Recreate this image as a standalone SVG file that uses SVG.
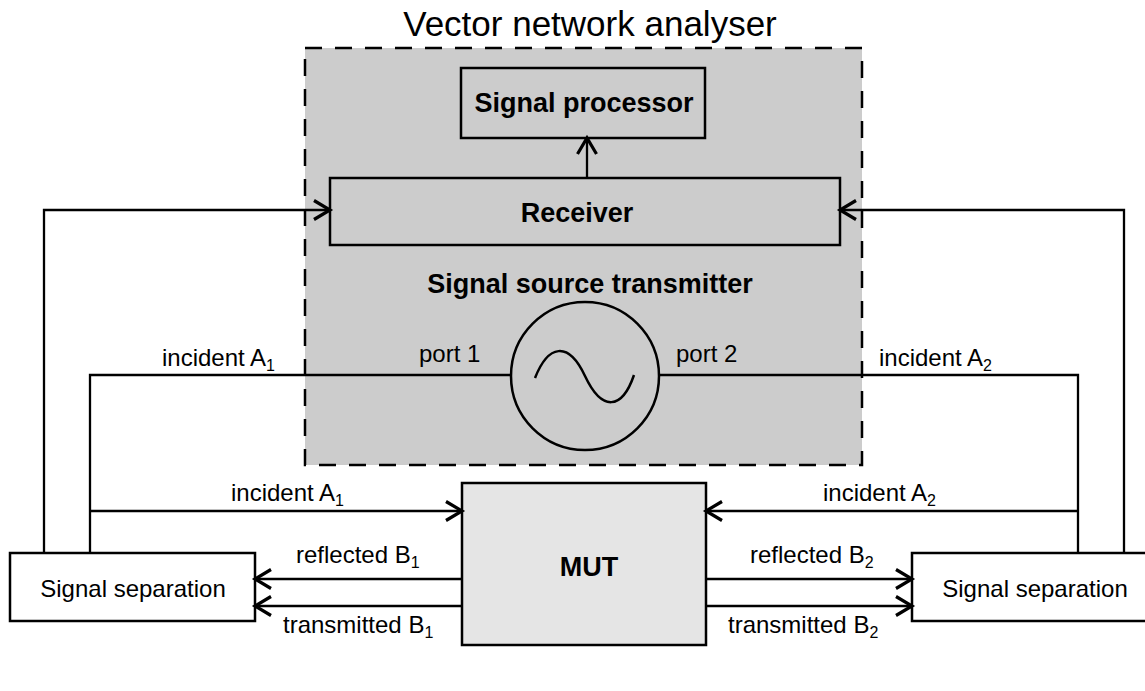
<svg xmlns="http://www.w3.org/2000/svg" width="1145" height="691" viewBox="0 0 1145 691">
<style>
text{font-family:"Liberation Sans",Arial,sans-serif;fill:#000}
.lbl{font-size:24px}
.sub{font-size:16px}
.b{font-size:27px;font-weight:bold}
.box{stroke:#000;stroke-width:2.5}
.ln{fill:none;stroke:#000;stroke-width:2.3}
</style>
<defs>
<marker id="arr" markerUnits="userSpaceOnUse" markerWidth="22" markerHeight="24" refX="18" refY="12" orient="auto">
<path d="M2,2.5 L18,12 L2,21.5" fill="none" stroke="#000" stroke-width="3.2"/>
</marker>
</defs>
<rect width="1145" height="691" fill="#fff"/>
<g id="vna">
<rect x="305" y="48" width="557" height="417" fill="#cccccc" stroke="#000" stroke-width="2.5" stroke-dasharray="17 13"/>
<text x="590" y="36" text-anchor="middle" style="font-size:35px">Vector network analyser</text>
</g>
<g id="processor">
<rect class="box" x="461" y="68" width="244" height="70" fill="#cccccc"/>
<text class="b" x="584" y="112" text-anchor="middle">Signal processor</text>
</g>
<g id="receiver">
<rect class="box" x="330" y="178" width="510" height="67" fill="#cccccc"/>
<text class="b" x="577" y="222" text-anchor="middle">Receiver</text>
</g>
<g id="source">
<text class="b" x="590" y="293" text-anchor="middle">Signal source transmitter</text>
<circle cx="585" cy="376" r="74" fill="none" stroke="#000" stroke-width="2.5"/>
<path d="M535,378 C548,345 568,340 585,376 S622,410 634,375" fill="none" stroke="#000" stroke-width="2.5"/>
<text class="lbl" x="419" y="362">port 1</text>
<text class="lbl" x="676" y="362">port 2</text>
</g>
<g id="mut">
<rect class="box" x="462" y="483" width="244" height="162" fill="#e5e5e5"/>
<text class="b" x="589" y="576" text-anchor="middle">MUT</text>
</g>
<g id="sep1">
<rect class="box" x="10" y="553" width="245" height="68" fill="#fff"/>
<text class="lbl" x="133" y="597" text-anchor="middle">Signal separation</text>
</g>
<g id="sep2">
<rect class="box" x="912" y="553" width="245" height="68" fill="#fff"/>
<text class="lbl" x="1035" y="597" text-anchor="middle">Signal separation</text>
</g>
<g id="connectors">
<path class="ln" d="M44,553 V210 H330" marker-end="url(#arr)"/>
<path class="ln" d="M1124,553 V210 H840" marker-end="url(#arr)"/>
<path class="ln" d="M587,178 V138" marker-end="url(#arr)"/>
<path class="ln" d="M90,553 V375 H511"/>
<path class="ln" d="M659,375 H1078 V553"/>
<path class="ln" d="M90,511 H462" marker-end="url(#arr)"/>
<path class="ln" d="M1078,511 H706" marker-end="url(#arr)"/>
<path class="ln" d="M462,579 H255" marker-end="url(#arr)"/>
<path class="ln" d="M462,606 H255" marker-end="url(#arr)"/>
<path class="ln" d="M706,579 H912" marker-end="url(#arr)"/>
<path class="ln" d="M706,606 H912" marker-end="url(#arr)"/>
<text class="lbl" x="162" y="366">incident A<tspan class="sub" dy="5">1</tspan></text>
<text class="lbl" x="879" y="366">incident A<tspan class="sub" dy="5">2</tspan></text>
<text class="lbl" x="231" y="501">incident A<tspan class="sub" dy="5">1</tspan></text>
<text class="lbl" x="823" y="501">incident A<tspan class="sub" dy="5">2</tspan></text>
<text class="lbl" x="296" y="563">reflected B<tspan class="sub" dy="5">1</tspan></text>
<text class="lbl" x="283" y="633">transmitted B<tspan class="sub" dy="5">1</tspan></text>
<text class="lbl" x="750" y="563">reflected B<tspan class="sub" dy="5">2</tspan></text>
<text class="lbl" x="728" y="633">transmitted B<tspan class="sub" dy="5">2</tspan></text>
</g>
</svg>
